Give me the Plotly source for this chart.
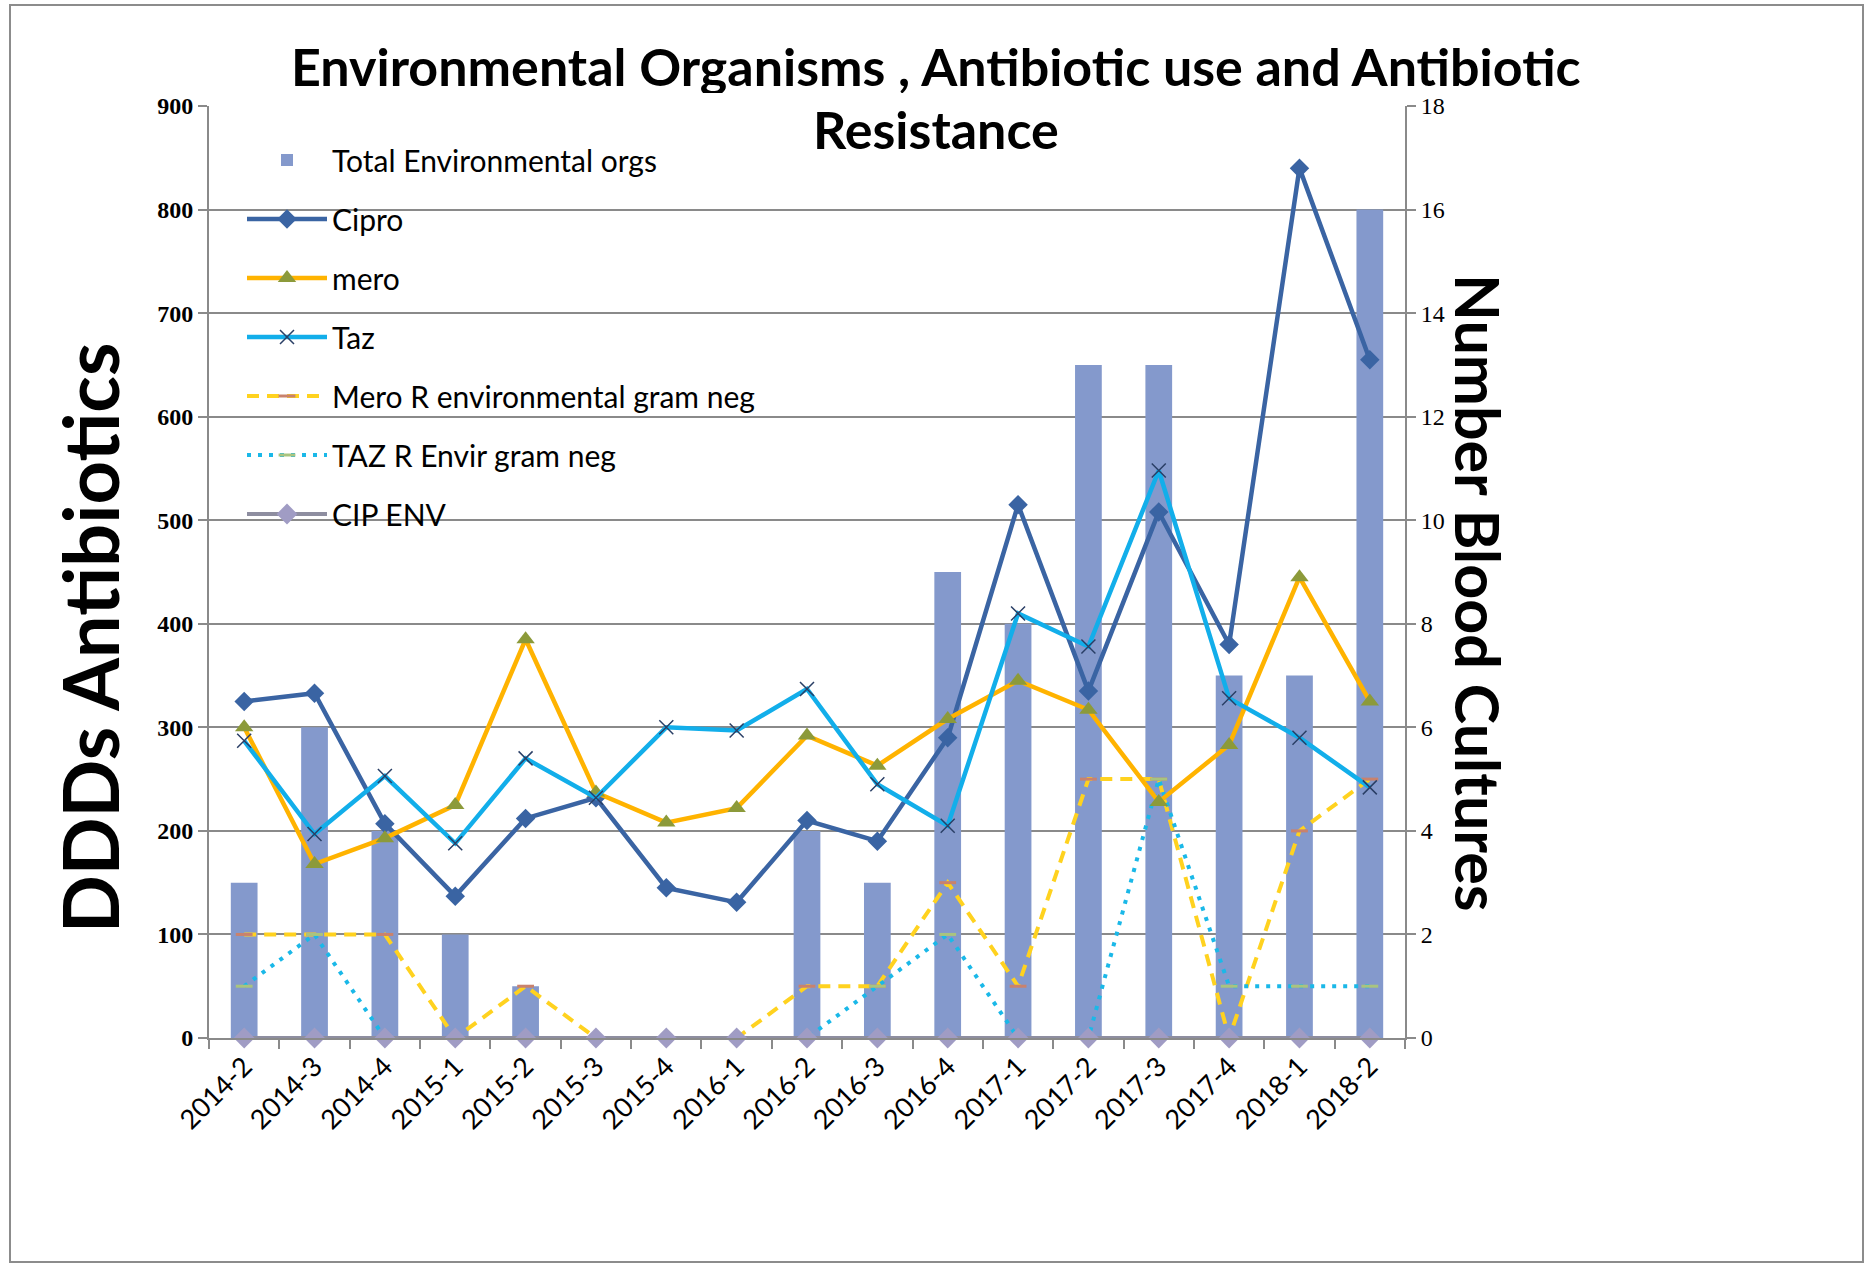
import plotly.graph_objects as go

quarters = ["2014-2", "2014-3", "2014-4", "2015-1", "2015-2", "2015-3", "2015-4", "2016-1",
            "2016-2", "2016-3", "2016-4", "2017-1", "2017-2", "2017-3", "2017-4", "2018-1", "2018-2"]

total_env_orgs = [3, 6, 4, 2, 1, 0, 0, 0, 4, 3, 9, 8, 13, 13, 7, 7, 16]
cipro = [325, 333, 207, 137, 212, 232, 145, 131, 210, 190, 290, 515, 335, 508, 380, 840, 655]
mero = [300, 168, 193, 225, 385, 237, 208, 222, 292, 263, 308, 345, 317, 228, 283, 445, 325]
taz = [287, 197, 253, 188, 270, 232, 300, 297, 337, 245, 205, 410, 378, 548, 328, 290, 242]
mero_r_env = [2, 2, 2, 0, 1, 0, 0, 0, 1, 1, 3, 1, 5, 5, 0, 4, 5]
taz_r_env = [1, 2, 0, 0, 0, 0, 0, 0, 0, 1, 2, 0, 0, 5, 1, 1, 1]
cip_env = [0] * 17

left_ticks = [0, 100, 200, 300, 400, 500, 600, 700, 800, 900]
right_ticks = [0, 2, 4, 6, 8, 10, 12, 14, 16, 18]

W, H = 1870, 1266
ML, MR, MT, MB = 209, 465, 106, 228
PW = W - ML - MR
PH = H - MT - MB


def px_x(p):
    return (p - ML) / PW


def px_y(p):
    return (H - MB - p) / PH


sans = "Lato, 'Open Sans', Arial, sans-serif"
serif = "'Liberation Serif', 'Times New Roman', serif"
legend_font = dict(family=sans, size=30, color="#000000")

fig = go.Figure()

fig.add_trace(go.Bar(
    x=quarters, y=total_env_orgs, name="Total Environmental orgs",
    marker=dict(color="#8499cc", line=dict(width=0)), width=0.38,
    yaxis="y", legendgroup="g1", legendrank=1,
))
fig.add_trace(go.Scatter(
    x=quarters, y=cipro, name="Cipro", mode="lines+markers",
    line=dict(color="#3a64a3", width=4.5),
    marker=dict(symbol="diamond", size=15, color="#3a64a3"),
    yaxis="y2", legendgroup="g2", legendrank=2, cliponaxis=False,
))
fig.add_trace(go.Scatter(
    x=quarters, y=mero, name="mero", mode="lines+markers",
    line=dict(color="#ffb300", width=4.5),
    marker=dict(symbol="triangle-up", size=16, color="#8c9a3a"),
    yaxis="y2", legendgroup="g3", legendrank=3, cliponaxis=False,
))
fig.add_trace(go.Scatter(
    x=quarters, y=taz, name="Taz", mode="lines+markers",
    line=dict(color="#12aeea", width=4.5),
    marker=dict(symbol="x-thin", size=14, color="#2a3f66",
                line=dict(color="#2a3f66", width=1.5)),
    yaxis="y2", legendgroup="g4", legendrank=4, cliponaxis=False,
))
fig.add_trace(go.Scatter(
    x=quarters, y=mero_r_env, name="Mero R environmental gram neg", mode="lines+markers",
    line=dict(color="#ffd21f", width=4, dash="12px,8px"),
    marker=dict(symbol="line-ew", size=12, color="#c9826d",
                line=dict(color="#c9826d", width=3)),
    yaxis="y", legendgroup="g5", legendrank=5, cliponaxis=False,
))
fig.add_trace(go.Scatter(
    x=quarters, y=taz_r_env, name="TAZ R Envir gram neg", mode="lines+markers",
    line=dict(color="#1ab8e8", width=4, dash="4px,7px"),
    marker=dict(symbol="line-ew", size=12, color="#a9c47f",
                line=dict(color="#a9c47f", width=3)),
    yaxis="y", legendgroup="g6", legendrank=6, cliponaxis=False,
))
fig.add_trace(go.Scatter(
    x=quarters, y=cip_env, name="CIP ENV", mode="lines+markers",
    line=dict(color="#8e8ea0", width=4),
    marker=dict(symbol="diamond", size=16, color="#a09cc4"),
    yaxis="y", legendgroup="g7", legendrank=7, cliponaxis=False,
))

grid_color = "#8a8a8a"

fig.update_layout(
    width=W, height=H,
    margin=dict(l=ML, r=MR, t=MT, b=MB, autoexpand=False),
    paper_bgcolor="white", plot_bgcolor="white",
    showlegend=True,
    barmode="overlay",
    legend=dict(
        x=px_x(242), y=px_y(134), xanchor="left", yanchor="top",
        bgcolor="rgba(0,0,0,0)", font=legend_font,
        tracegroupgap=17, traceorder="grouped", itemwidth=80,
    ),
    xaxis=dict(
        type="category", categoryorder="array", categoryarray=quarters,
        range=[-0.5, len(quarters) - 0.5], autorange=False,
        showline=True, linecolor=grid_color, linewidth=2,
        ticks="outside", ticklen=9, tickcolor=grid_color, tickwidth=1.5,
        tickson="boundaries", tickangle=-45,
        tickfont=dict(family=sans, size=27, color="#000000"),
        showgrid=False, zeroline=False,
    ),
    yaxis=dict(
        side="right", range=[0, 18], tickvals=right_ticks,
        showline=True, linecolor=grid_color, linewidth=2,
        ticks="outside", ticklen=9, tickcolor=grid_color, tickwidth=1.5,
        tickfont=dict(family=serif, size=24, color="#000000"),
        showgrid=True, gridcolor=grid_color, gridwidth=1.5, zeroline=False,
    ),
    yaxis2=dict(
        side="left", overlaying="y", range=[0, 900], tickvals=left_ticks,
        showline=True, linecolor=grid_color, linewidth=2,
        ticks="outside", ticklen=9, tickcolor=grid_color, tickwidth=1.5,
        tickfont=dict(family=serif, size=24, color="#000000", weight="bold"),
        showgrid=False, zeroline=False,
    ),
    annotations=[
        dict(text="<b>Environmental Organisms , Antibiotic use and Antibiotic</b>",
             xref="paper", yref="paper", x=px_x(936), y=px_y(66),
             xanchor="center", yanchor="middle", showarrow=False, height=54,
             font=dict(family=sans, size=52, color="#000000")),
        dict(text="<b>Resistance</b>",
             xref="paper", yref="paper", x=px_x(936), y=px_y(129),
             xanchor="center", yanchor="middle", showarrow=False, height=54,
             font=dict(family=sans, size=52, color="#000000")),
        dict(text="<b>DDDs Antibiotics</b>",
             xref="paper", yref="paper", x=px_x(89), y=px_y(638),
             xanchor="center", yanchor="middle", showarrow=False, textangle=-90,
             font=dict(family=sans, size=76, color="#000000")),
        dict(text="<b>Number Blood Cultures</b>",
             xref="paper", yref="paper", x=px_x(1479), y=px_y(593),
             xanchor="center", yanchor="middle", showarrow=False, textangle=90,
             font=dict(family=sans, size=61, color="#000000")),
    ],
    shapes=[
        dict(type="rect", xref="paper", yref="paper",
             x0=px_x(10), x1=px_x(1863), y0=px_y(1262), y1=px_y(5),
             line=dict(color="#8c8c8c", width=2), fillcolor="rgba(0,0,0,0)", layer="below"),
    ],
)

fig.write_html("out.html", config={"displayModeBar": False},
               post_script="document.body.style.margin='0px';")
